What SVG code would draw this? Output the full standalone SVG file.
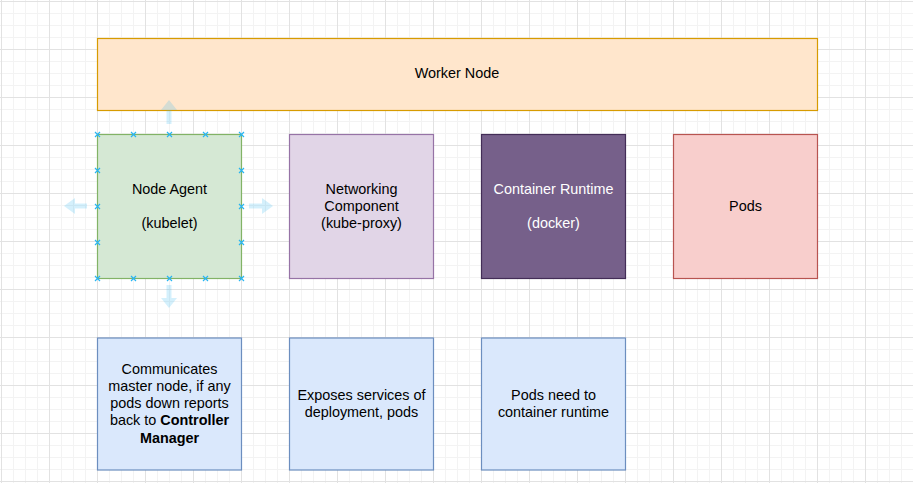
<svg xmlns="http://www.w3.org/2000/svg" width="913" height="483" viewBox="0 0 913 483">
  <defs>
    <pattern id="minor" x="1" y="1" width="12" height="12" patternUnits="userSpaceOnUse">
      <path d="M0.5 0V12M0 0.5H12" fill="none" stroke="#f3f3f3" stroke-width="1"/>
    </pattern>
    <pattern id="major" x="1" y="1" width="48" height="48" patternUnits="userSpaceOnUse">
      <path d="M0.5 0V48M0 0.5H48" fill="none" stroke="#e2e2e2" stroke-width="1"/>
    </pattern>
    <g id="hx"><path d="M-2.5 -2.5L2.5 2.5M-2.5 2.5L2.5 -2.5" stroke="#29b6f2" stroke-width="1.2" fill="none"/></g>
  </defs>
  <style>
    .t{font-family:"Liberation Sans",Arial,Helvetica,sans-serif;font-size:14.4px;fill:#000;text-anchor:middle}
    .w{fill:#ffffff}
    .b{font-weight:bold}
    .hint{fill:#29b6f2;fill-opacity:0.2}
    rect.n{stroke-width:1.2}
  </style>
  <rect width="913" height="483" fill="#ffffff"/>
  <rect width="913" height="483" fill="url(#minor)"/>
  <rect width="913" height="483" fill="url(#major)"/>

  <g id="worker-node">
    <rect class="n" x="97.5" y="38.5" width="720" height="72" fill="#ffe6cc" stroke="#d79b00"/>
    <text class="t" x="457" y="77.5">Worker Node</text>
  </g>

  <g id="hover-arrows">
    <path class="hint" d="M169 100L177 110H171.5V124H166.5V110H161Z"/>
    <path class="hint" d="M169 308L177 298H171.5V285H166.5V298H161Z"/>
    <path class="hint" d="M64 206L75 198V203.5H87V208.5H75V214Z"/>
    <path class="hint" d="M273 206L262 198V203.5H249V208.5H262V214Z"/>
  </g>

  <g id="node-agent">
    <rect class="n" x="97.5" y="134.5" width="144" height="144" fill="#d5e8d4" stroke="#82b366"/>
    <text class="t" x="169.5" y="194">Node Agent</text>
    <text class="t" x="169.5" y="228">(kubelet)</text>
  </g>
  <g id="selection-handles">
    <use href="#hx" x="97.5" y="134.5"/><use href="#hx" x="133.5" y="134.5"/><use href="#hx" x="169.5" y="134.5"/><use href="#hx" x="205.5" y="134.5"/><use href="#hx" x="241.5" y="134.5"/>
    <use href="#hx" x="97.5" y="278.5"/><use href="#hx" x="133.5" y="278.5"/><use href="#hx" x="169.5" y="278.5"/><use href="#hx" x="205.5" y="278.5"/><use href="#hx" x="241.5" y="278.5"/>
    <use href="#hx" x="97.5" y="170.5"/><use href="#hx" x="97.5" y="206.5"/><use href="#hx" x="97.5" y="242.5"/>
    <use href="#hx" x="241.5" y="170.5"/><use href="#hx" x="241.5" y="206.5"/><use href="#hx" x="241.5" y="242.5"/>
  </g>

  <g id="networking-component">
    <rect class="n" x="289.5" y="134.5" width="144" height="144" fill="#e1d5e7" stroke="#9673a6"/>
    <text class="t" x="361.5" y="194">Networking</text>
    <text class="t" x="361.5" y="211">Component</text>
    <text class="t" x="361.5" y="228">(kube-proxy)</text>
  </g>

  <g id="container-runtime">
    <rect class="n" x="481.5" y="134.5" width="144" height="144" fill="#76608a" stroke="#432d57"/>
    <text class="t w" x="553.5" y="194">Container Runtime</text>
    <text class="t w" x="553.5" y="228">(docker)</text>
  </g>

  <g id="pods">
    <rect class="n" x="673.5" y="134.5" width="144" height="144" fill="#f8cecc" stroke="#b85450"/>
    <text class="t" x="745.5" y="210.5">Pods</text>
  </g>

  <g id="kubelet-note">
    <rect class="n" x="97.5" y="338" width="144" height="132" fill="#dae8fc" stroke="#6c8ebf"/>
    <text class="t" x="169.5" y="373.5">Communicates</text>
    <text class="t" x="169.5" y="390.8">master node, if any</text>
    <text class="t" x="169.5" y="408">pods down reports</text>
    <text class="t" x="169.5" y="425.3">back to <tspan class="b">Controller</tspan></text>
    <text class="t b" x="169.5" y="442.5">Manager</text>
  </g>

  <g id="proxy-note">
    <rect class="n" x="289.5" y="338" width="144" height="132" fill="#dae8fc" stroke="#6c8ebf"/>
    <text class="t" x="361.5" y="399.5">Exposes services of</text>
    <text class="t" x="361.5" y="416.8">deployment, pods</text>
  </g>

  <g id="runtime-note">
    <rect class="n" x="481.5" y="338" width="144" height="132" fill="#dae8fc" stroke="#6c8ebf"/>
    <text class="t" x="553.5" y="399.5">Pods need to</text>
    <text class="t" x="553.5" y="416.8">container runtime</text>
  </g>

  <g id="connectors"/>
</svg>
